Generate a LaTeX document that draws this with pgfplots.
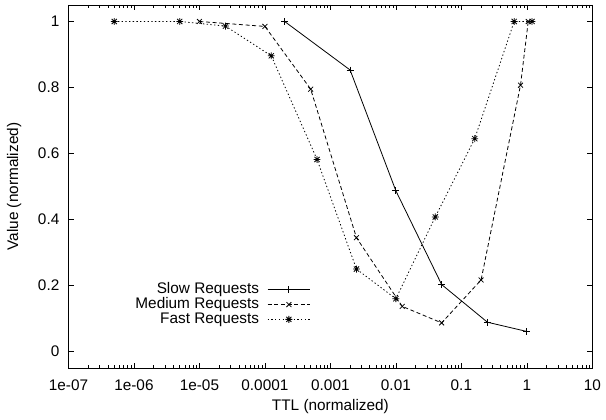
\documentclass[border=0pt]{standalone}
\usepackage{fontspec}
\setmainfont{Liberation Sans}
\usepackage{pgfplots}
\pgfplotsset{compat=1.18}

% gnuplot-like star: plus and cross on top of each other
\pgfdeclareplotmark{gpstar}{%
  \pgfpathmoveto{\pgfqpoint{-\pgfplotmarksize}{0pt}}%
  \pgfpathlineto{\pgfqpoint{\pgfplotmarksize}{0pt}}%
  \pgfpathmoveto{\pgfqpoint{0pt}{-\pgfplotmarksize}}%
  \pgfpathlineto{\pgfqpoint{0pt}{\pgfplotmarksize}}%
  \pgfpathmoveto{\pgfqpoint{-.75\pgfplotmarksize}{-.75\pgfplotmarksize}}%
  \pgfpathlineto{\pgfqpoint{.75\pgfplotmarksize}{.75\pgfplotmarksize}}%
  \pgfpathmoveto{\pgfqpoint{-.75\pgfplotmarksize}{.75\pgfplotmarksize}}%
  \pgfpathlineto{\pgfqpoint{.75\pgfplotmarksize}{-.75\pgfplotmarksize}}%
  \pgfusepathqstroke}

\begin{document}
\fontsize{11.6}{13}\selectfont
\begin{tikzpicture}
\begin{axis}[
    name=ax,
    width=396pt, height=274.5pt, scale only axis,
    xmode=log,
    xmin=1e-7, xmax=10, ymin=-0.05, ymax=1.05,
    xtick={1e-7,1e-6,1e-5,1e-4,1e-3,1e-2,1e-1,1,10},
    xticklabels={1e-07,1e-06,1e-05,0.0001,0.001,0.01,0.1,1,10},
    minor xtick={2e-7,3e-7,4e-7,5e-7,6e-7,7e-7,8e-7,9e-7,
                 2e-6,3e-6,4e-6,5e-6,6e-6,7e-6,8e-6,9e-6,
                 2e-5,3e-5,4e-5,5e-5,6e-5,7e-5,8e-5,9e-5,
                 2e-4,3e-4,4e-4,5e-4,6e-4,7e-4,8e-4,9e-4,
                 2e-3,3e-3,4e-3,5e-3,6e-3,7e-3,8e-3,9e-3,
                 0.02,0.03,0.04,0.05,0.06,0.07,0.08,0.09,
                 0.2,0.3,0.4,0.5,0.6,0.7,0.8,0.9,
                 2,3,4,5,6,7,8,9},
    ytick={0,0.2,0.4,0.6,0.8,1},
    yticklabels={0,0.2,0.4,0.6,0.8,1},
    tick align=inside,
    major tick length=4pt, minor tick length=2pt,
    every tick/.style={black, line width=0.5pt},
    axis line style={line width=0.6pt},
    xticklabel style={yshift=-4.75pt},
    yticklabel style={xshift=-2.85pt},
    xlabel={TTL (normalized)},
    ylabel={Value (normalized)},
    every axis x label/.style={at={([yshift=-29.25pt]axis description cs:0.5,0)}, anchor=center},
    every axis y label/.style={at={([xshift=-41pt]axis description cs:0,0.5)}, anchor=center, rotate=90},
    legend plot pos=right,
    legend cell align=right,
    legend style={draw=none, fill=none, at={(0.47,0.175)}, anchor=east,
      row sep=0pt, column sep=6pt,
      nodes={inner sep=0.2pt, text height=8.4pt, text depth=2.4pt}},
    legend image code/.code={
      \draw[#1, mark=none] (0pt,0pt) -- (32pt,0pt);
      \draw[#1, only marks] plot coordinates {(16pt,0pt)};
    },
    mark size=2.6pt,
]
\addplot[black, line width=0.6pt, mark=+, mark options={solid}] coordinates {
  (2e-4,1) (0.002,0.853) (0.01,0.487) (0.05,0.203) (0.25,0.089) (1,0.061)
};
\addlegendentry{Slow Requests}
\addplot[black, line width=0.6pt, dash pattern=on 3pt off 2pt, mark=x, mark options={solid}] coordinates {
  (1e-5,1) (1e-4,0.985) (5e-4,0.795) (0.0025,0.345) (0.0125,0.137) (0.05,0.087) (0.2,0.217) (0.8,0.807) (1.05,1)
};
\addlegendentry{Medium Requests}
\addplot[black, line width=0.6pt, dash pattern=on 1pt off 1.8pt, mark=gpstar, mark options={solid}] coordinates {
  (5e-7,1) (5e-6,1) (2.5e-5,0.986) (1.25e-4,0.896) (6.25e-4,0.582) (0.0025,0.25) (0.01,0.16) (0.04,0.408) (0.16,0.645) (0.64,1) (1.2,1)
};
\addlegendentry{Fast Requests}
\end{axis}
\path ([shift={(-51.75pt,-38.25pt)}]ax.south west) rectangle ([shift={(6.75pt,3.75pt)}]ax.north east);
\end{tikzpicture}
\end{document}
